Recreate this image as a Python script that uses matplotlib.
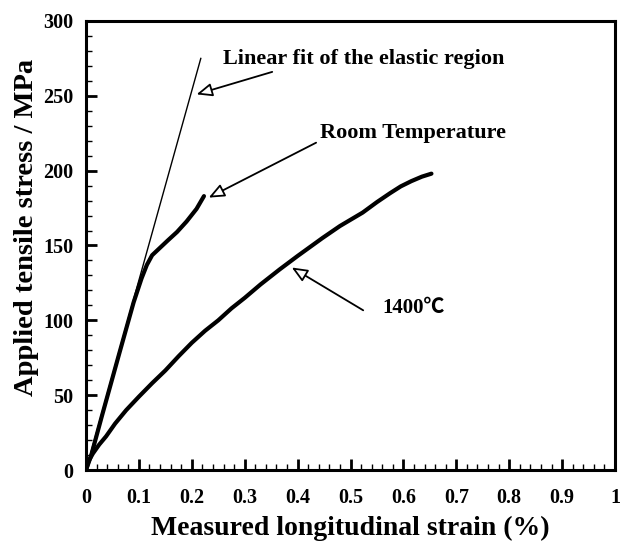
import matplotlib
matplotlib.use("Agg")
import matplotlib.pyplot as plt
from matplotlib.ticker import MultipleLocator

# Data
rt_strain = [0, 0.01, 0.03, 0.063, 0.09, 0.105, 0.115, 0.125, 0.14, 0.155, 0.172, 0.19, 0.209, 0.223]
rt_stress = [0, 10, 36, 78, 112, 128, 137, 143.5, 148.5, 153.5, 159, 166, 174.5, 183]

ht_strain = [0, 0.005, 0.013, 0.025, 0.038, 0.055, 0.076, 0.10, 0.125, 0.15, 0.175, 0.20,
             0.225, 0.25, 0.275, 0.30, 0.33, 0.366, 0.40, 0.447, 0.48, 0.523, 0.55, 0.575,
             0.595, 0.615, 0.635, 0.653]
ht_stress = [0, 6, 11, 17, 22.5, 31, 40, 49, 58, 66.5, 76, 85,
             93, 100, 108, 115, 124, 134, 143, 155, 163, 172, 179, 185,
             189.5, 193, 196, 198]

fit_strain = [0, 0.217]
fit_stress = [0, 275]

x_ticks = [0, 0.1, 0.2, 0.3, 0.4, 0.5, 0.6, 0.7, 0.8, 0.9, 1]
x_tick_labels = ["0", "0.1", "0.2", "0.3", "0.4", "0.5", "0.6", "0.7", "0.8", "0.9", "1"]
y_ticks = [0, 50, 100, 150, 200, 250, 300]

plt.rcParams['font.family'] = ['Liberation Serif', 'DejaVu Serif']
plt.rcParams['font.weight'] = 'bold'

fig = plt.figure(figsize=(6.28, 5.44), dpi=100)
ax = fig.add_axes([86/628, 74/544, 529/628, 449/544])

ax.plot(fit_strain, fit_stress, color='black', lw=1.0)
ax.plot(rt_strain, rt_stress, color='black', lw=3.0, solid_capstyle='round', solid_joinstyle='round')
ax.plot(ht_strain, ht_stress, color='black', lw=3.0, solid_capstyle='round', solid_joinstyle='round')

ax.set_xlim(0, 1)
ax.set_ylim(0, 300)
ax.set_xticks(x_ticks)
ax.set_xticklabels(x_tick_labels)
ax.set_yticks(y_ticks)
ax.xaxis.set_minor_locator(MultipleLocator(0.02))
ax.yaxis.set_minor_locator(MultipleLocator(10))
ax.tick_params(which='major', direction='in', length=8, width=2, labelsize=14.5)
ax.tick_params(axis='x', which='major', pad=13)
ax.tick_params(axis='y', which='major', pad=9)
ax.tick_params(which='minor', direction='in', length=4, width=1)
ax.tick_params(top=False, right=False, which='both')
for lbl in ax.get_xticklabels() + ax.get_yticklabels():
    lbl.set_fontweight('bold')
for s in ax.spines.values():
    s.set_linewidth(2.2)

ax.set_xlabel("Measured longitudinal strain (%)", fontsize=20, fontweight='bold')
ax.xaxis.label.set_va('center')
ax.xaxis.set_label_coords(0.5, -0.13)
ax.set_ylabel("Applied tensile stress / MPa", fontsize=20.5, fontweight='bold')
ax.yaxis.label.set_va('center')
ax.yaxis.set_label_coords(-0.113, 0.541)

aprops = dict(arrowstyle='-|>,head_length=0.95,head_width=0.4', fc='white', ec='black', lw=1.3,
              shrinkA=0, shrinkB=0, mutation_scale=10)

ax.annotate("", xy=(0.209, 251), xytext=(0.352, 266), arrowprops=aprops)
ax.text(0.259, 274.7, "Linear fit of the elastic region", fontsize=16, fontweight='bold', va='center', ha='left')

ax.annotate("", xy=(0.232, 182), xytext=(0.435, 218.7), arrowprops=aprops)
ax.text(0.442, 225.3, "Room Temperature", fontsize=16, fontweight='bold', va='center', ha='left')

ax.annotate("", xy=(0.389, 135.3), xytext=(0.524, 106.7), arrowprops=aprops)
ax.text(0.56, 108, "1400℃", fontsize=15, fontweight='bold', va='center', ha='left',
        family=['Liberation Serif', 'Noto Sans CJK SC', 'DejaVu Sans'])

fig.savefig("out.png", dpi=100)
